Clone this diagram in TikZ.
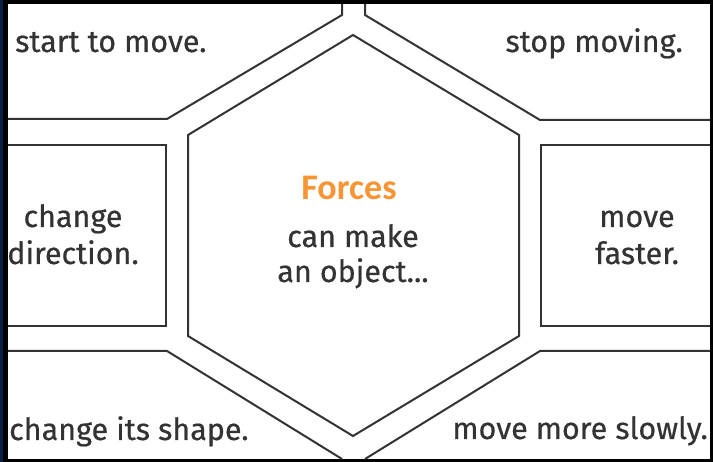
\documentclass[tikz,border=0pt]{standalone}
\usepackage{fontspec}
\setmainfont{Fira Sans}[FakeBold=0.5]
\newfontfamily\forcesfont{Carlito}
\definecolor{ink}{HTML}{333333}
\definecolor{edge}{HTML}{333333}
\definecolor{forceorange}{HTML}{F79433}
\definecolor{navy}{HTML}{0B1E45}
\begin{document}
\begin{tikzpicture}[x=1pt,y=-1pt,
  panel/.style={draw=edge,line width=2pt,line join=miter},
  label/.style={text=ink,font=\fontsize{30.5}{37}\selectfont,inner sep=0pt}]
\useasboundingbox (0,0) rectangle (713,462);
% frame
\fill[black] (0,0) rectangle (713,462);
\fill[navy] (0,0) rectangle (3,462);
\fill[white] (8,4) rectangle (710,459);
% outer region borders
\draw[panel] (342,4) -- (342,15) -- (167,119) -- (8,119);
\draw[panel] (365,4) -- (365,15) -- (540,120) -- (710,120);
\draw[panel] (8,351) -- (167,351) -- (342,459);
\draw[panel] (710,351) -- (540,351) -- (365,459);
% side boxes
\draw[panel] (8,145) -- (166,145) -- (166,326) -- (8,326);
\draw[panel] (710,145) -- (541,145) -- (541,326) -- (710,326);
% central hexagon
\draw[panel] (353,35) -- (519,135) -- (519,336) -- (353,436) -- (188,336) -- (188,135) -- cycle;
% texts
\node[label,anchor=base west] (start) at (15,52) {start to move.};
\node[label,anchor=base east] (stop) at (683,52) {stop moving.};
\node[label,anchor=base west] (shape) at (9,440) {change its shape.};
\node[label,anchor=base east] (slow) at (708,439) {move more slowly.};
\node[label,anchor=base,align=center] (dir) at (73,264) {change\\direction.};
\node[label,anchor=base,align=center] (fast) at (637,264) {move\\faster.};
\node[text=forceorange,font=\forcesfont\bfseries\fontsize{36}{40}\selectfont,anchor=base,inner sep=0pt] (forces) at (349,200) {Forces};
\node[label,anchor=base,align=center,font=\fontsize{30.5}{35}\selectfont] (can) at (353,282) {can make\\an object...};
\end{tikzpicture}
\end{document}
